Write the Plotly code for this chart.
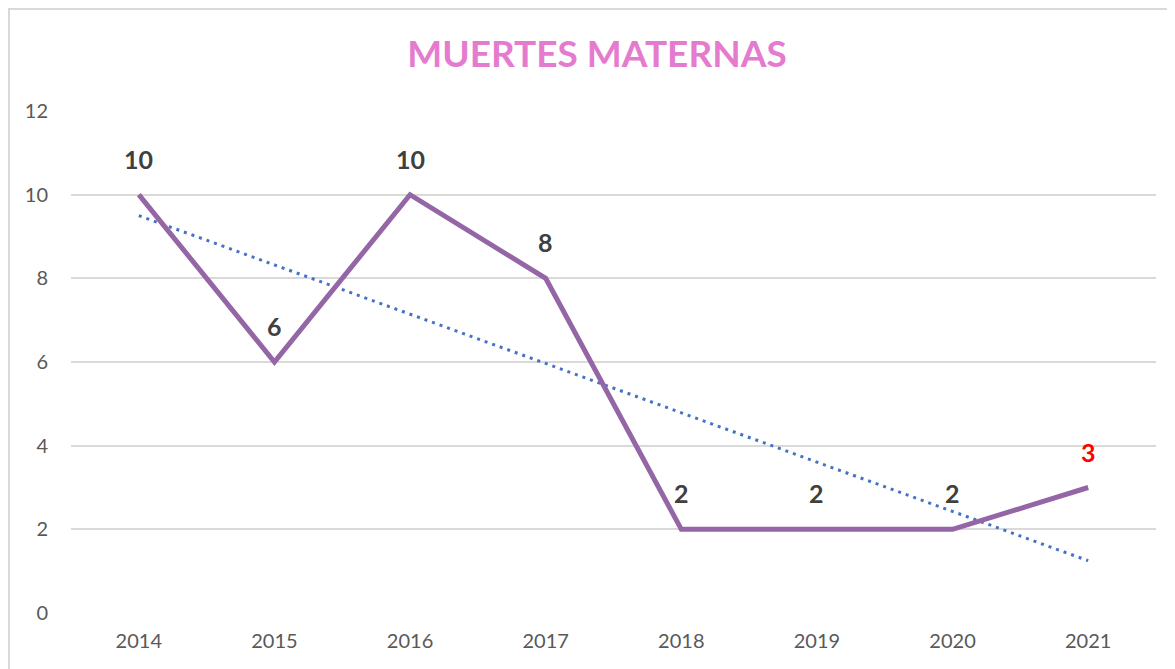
import numpy as np
import plotly.graph_objects as go

years = ["2014", "2015", "2016", "2017", "2018", "2019", "2020", "2021"]
deaths = [10, 6, 10, 8, 2, 2, 2, 3]
label_colors = ["#404040"] * 7 + ["#FF0000"]

# Linear trend (least squares) as in the spreadsheet trendline
idx = np.arange(len(years))
slope, intercept = np.polyfit(idx, deaths, 1)
trend = slope * idx + intercept

OFF = 8  # page body margin
W, H = 1175 - OFF, 669 - OFF
L, R, T, B = 71 - OFF, 19, 111 - OFF, 56
pw, ph = W - L - R, H - T - B

FONT = "Lato, Open Sans, sans-serif"

fig = go.Figure()
fig.add_trace(go.Scatter(x=years, y=trend, mode="lines",
                         line=dict(color="#4472C4", width=3, dash="3px,5px"),
                         hoverinfo="skip", showlegend=False))
fig.add_trace(go.Scatter(x=years, y=deaths, mode="lines",
                         line=dict(color="#9466A6", width=5),
                         showlegend=False))

for i, (v, c) in enumerate(zip(deaths, label_colors)):
    fig.add_annotation(x=i, y=v, xref="x", yref="y", text=f"<b>{v}</b>", showarrow=False,
                       yshift=36, yanchor="middle",
                       font=dict(family=FONT, size=25, color=c))

def px_x(p):
    return (p - OFF - L) / pw

def px_y(p):
    return (OFF + T + ph - p) / ph

fig.add_shape(type="rect", xref="paper", yref="paper",
              x0=px_x(9), x1=px_x(1190), y0=px_y(690), y1=px_y(9),
              line=dict(color="#D9D9D9", width=2), fillcolor="rgba(0,0,0,0)", layer="below")

fig.update_layout(
    width=W, height=H,
    margin=dict(l=L, r=R, t=T, b=B),
    paper_bgcolor="white", plot_bgcolor="white",
    title=dict(text="<b>MUERTES MATERNAS</b>", x=(597 - OFF) / W, xanchor="center",
               y=1 - (54 - OFF) / H, yanchor="middle",
               font=dict(family=FONT, size=37, color="#E57BCF")),
    xaxis=dict(type="category", range=[-0.5, 7.5], showgrid=False, zeroline=False,
               showline=False, ticks="", ticklabelstandoff=14, automargin=False,
               tickfont=dict(family=FONT, size=20, color="#595959")),
    yaxis=dict(range=[0, 12], dtick=2, showgrid=True, gridcolor="#D9D9D9", gridwidth=1.5,
               zeroline=False, showline=False, ticks="", ticklabelstandoff=22, automargin=False,
               tickfont=dict(family=FONT, size=20, color="#595959")),
)

fig.write_html("out.html")
